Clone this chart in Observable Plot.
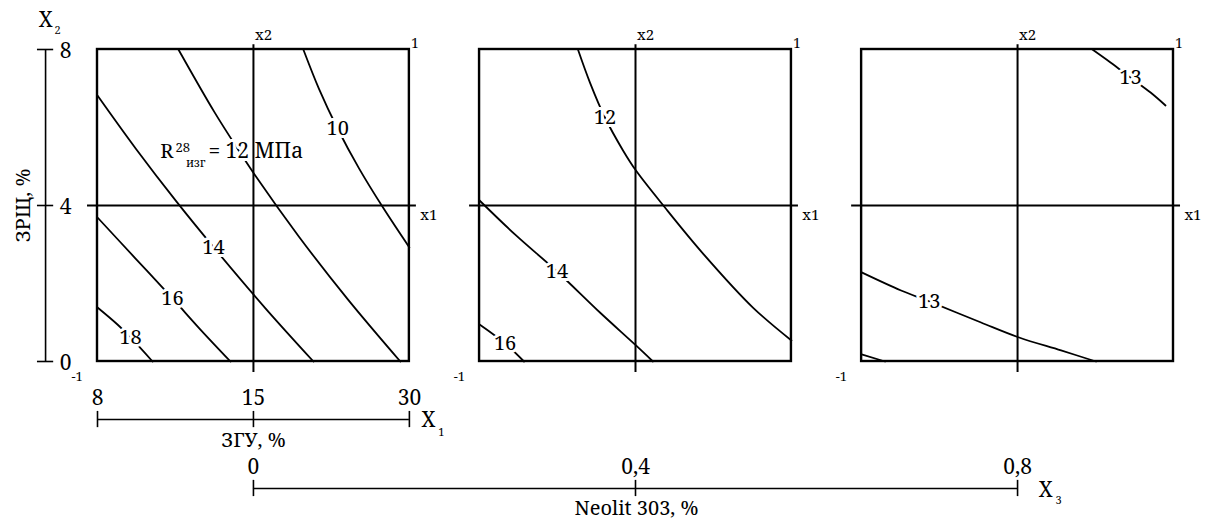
<!DOCTYPE html>
<html>
<head>
<meta charset="utf-8">
<script src="https://cdn.jsdelivr.net/npm/d3@7"></script>
<script src="https://cdn.jsdelivr.net/npm/@observablehq/plot@0.6"></script>
<style>
  body { margin: 0; background: #fff; }
  #chart svg text { font-family: "Noto Serif", "Liberation Serif", "Nimbus Roman", "FreeSerif", "Georgia", "Times", serif; }
</style>
</head>
<body>
<div id="chart"></div>
<script>
// Coded factor levels and the natural values printed on the factor scales
const codedLevels = [-1, 0, 1];
const x1Ticks = ["8", "15", "30"];     // ЗГУ, %
const x2Ticks = ["0", "4", "8"];       // ЗРЩ, %
const x3Ticks = ["0", "0,4", "0,8"];   // Neolit 303, % — one panel per level

// Isolines of flexural strength R28изг, MPa, in coded (x1, x2) coordinates
// Panel X3 = -1 (Neolit 0 %)
const p1_10 = [[0.32,1.0],[0.421,0.746],[0.54,0.492],[0.677,0.238],[0.832,-0.015],[1.0,-0.269]];
const p1_12 = [[-0.481,1.0],[-0.251,0.6],[-0.09,0.346],[0.006,0.2],[0.292,-0.2],[0.604,-0.6],[0.942,-1.0]];
const p1_14 = [[-1.0,0.705],[-0.754,0.364],[-0.492,0.023],[-0.256,-0.267],[0.077,-0.659],[0.385,-1.0]];
const p1_16 = [[-1.0,-0.077],[-0.756,-0.34],[-0.519,-0.596],[-0.34,-0.795],[-0.147,-1.0]];
const p1_18 = [[-1.0,-0.654],[-0.872,-0.763],[-0.788,-0.846],[-0.647,-1.0]];
// Panel X3 = 0 (Neolit 0,4 %)
const p2_12 = [[-0.369,1.0],[-0.292,0.788],[-0.196,0.564],[-0.08,0.353],[0.003,0.224],[0.189,-0.013],[0.433,-0.308],[0.753,-0.654],[1.0,-0.865]];
const p2_14 = [[-1.0,0.032],[-0.766,-0.192],[-0.503,-0.423],[-0.228,-0.686],[0.003,-0.897],[0.112,-1.0]];
const p2_16 = [[-1.0,-0.763],[-0.836,-0.885],[-0.715,-1.0]];
// Panel X3 = +1 (Neolit 0,8 %)
const p3_13a = [[0.48,1.0],[0.596,0.917],[0.724,0.82],[0.853,0.724],[0.949,0.641]];
const p3_13b = [[-1.0,-0.429],[-0.747,-0.545],[-0.567,-0.615],[-0.234,-0.75],[0.01,-0.846],[0.279,-0.929],[0.503,-1.0]];
const p3_14 = [[-1.0,-0.955],[-0.85,-1.0]];

// panel index, level, points, vertex carrying the label (null = unlabeled)
const contours = [
  {panel: 0, level: 10, points: p1_10, labelAt: 2},
  {panel: 0, level: 12, points: p1_12, labelAt: 2, long: true},
  {panel: 0, level: 14, points: p1_14, labelAt: 3},
  {panel: 0, level: 16, points: p1_16, labelAt: 2},
  {panel: 0, level: 18, points: p1_18, labelAt: 2},
  {panel: 1, level: 12, points: p2_12, labelAt: 2},
  {panel: 1, level: 14, points: p2_14, labelAt: 2},
  {panel: 1, level: 16, points: p2_16, labelAt: 1},
  {panel: 2, level: 13, points: p3_13a, labelAt: 2},
  {panel: 2, level: 13, points: p3_13b, labelAt: 2},
  {panel: 2, level: 14, points: p3_14, labelAt: null}
];

// Layout: panels sit side by side on one shared horizontal scale
const STEP = 2.45;                 // distance between panel centres, coded units
const panels = x3Ticks.map((_, i) => i);
const gx = (p, x) => x + STEP * p; // coded x1 within panel p -> shared x

const linePts = contours.flatMap((c, k) =>
  c.points.map(([x, y]) => ({id: k, x: gx(c.panel, x), y})));
const labels = contours.filter(c => c.labelAt != null && !c.long).map(c => ({
  x: gx(c.panel, c.points[c.labelAt][0]),
  y: c.points[c.labelAt][1],
  text: String(c.level)
}));
const longC = contours.find(c => c.long);
const longAt = {x: gx(longC.panel, longC.points[longC.labelAt][0]), y: longC.points[longC.labelAt][1]};

// Factor scale positions (outside the panel frame)
const AX2 = -1.333, Y1 = -1.372, Y3 = -1.814, TK = 0.052;
const serif = "Noto Serif, Liberation Serif, serif";
const T = {fontFamily: serif, fill: "black"};
const halo = {...T, stroke: "white", strokeWidth: 6};

const chart = Plot.plot({
  width: 1206,
  height: 523,
  marginLeft: 97,
  marginRight: 33,
  marginTop: 49,
  marginBottom: 162,
  x: {domain: [-1, 1 + 2 * STEP], axis: null},
  y: {domain: [-1, 1], axis: null},
  style: {fontFamily: serif, background: "white", overflow: "visible"},
  marks: [
    // isolines
    Plot.line(linePts, {x: "x", y: "y", z: "id", curve: "catmull-rom", stroke: "black", strokeWidth: 1.8}),
    // contour labels, cutting the lines beneath
    Plot.text(labels, {x: "x", y: "y", text: "text", fontSize: 20, ...halo}),
    Plot.text([longAt], {x: "x", y: "y", text: () => `= ${longC.level} МПа`, textAnchor: "start", dx: -31, fontSize: 21, ...halo}),
    Plot.text([longAt], {x: "x", y: "y", text: () => "R", textAnchor: "end", dx: -66, fontSize: 20, ...halo}),
    Plot.text([longAt], {x: "x", y: "y", text: () => "28", textAnchor: "start", dx: -64, dy: -4, fontSize: 13, ...T}),
    Plot.text([longAt], {x: "x", y: "y", text: () => "изг", textAnchor: "end", dx: -34, dy: 12, fontSize: 12, ...T}),
    // panel frames and centre cross
    Plot.rect(panels, {x1: p => gx(p, -1), x2: p => gx(p, 1), y1: -1, y2: 1, fill: "none", stroke: "black", strokeWidth: 2.4}),
    Plot.ruleX(panels, {x: p => gx(p, 0), y1: -1.07, y2: 1.03, stroke: "black", strokeWidth: 2}),
    Plot.ruleY(panels, {y: 0, x1: p => gx(p, -1.064), x2: p => gx(p, 1.045), stroke: "black", strokeWidth: 2}),
    // panel coordinate marks
    Plot.text(panels, {x: p => gx(p, 0.01), y: 1.09, text: () => "x2", textAnchor: "start", fontSize: 15, ...T}),
    Plot.text(panels, {x: p => gx(p, 1.035), y: 1.04, text: () => "1", fontSize: 14, ...T}),
    Plot.text(panels, {x: p => gx(p, 1.07), y: -0.064, text: () => "x1", textAnchor: "start", fontSize: 15, ...T}),
    Plot.text(panels, {x: p => gx(p, -1.13), y: -1.096, text: () => "-1", fontSize: 13, ...T}),
    // X2 scale (ЗРЩ)
    Plot.ruleX([AX2], {x: d => d, y1: -1, y2: 1, stroke: "black", strokeWidth: 1.6}),
    Plot.ruleY(codedLevels, {y: d => d, x1: AX2 - TK, x2: AX2 + TK, stroke: "black", strokeWidth: 1.6}),
    Plot.text(codedLevels, {x: AX2 + 0.128, y: d => d, dy: 2, text: (d, i) => x2Ticks[i], fontSize: 21, ...T}),
    Plot.text(["X"], {x: AX2, y: 1.186, text: d => d, fontSize: 21, ...T}),
    Plot.text(["2"], {x: AX2 + 0.077, y: 1.12, text: d => d, fontSize: 11, ...T}),
    Plot.text(["ЗРЩ, %"], {x: -1.474, y: 0, text: d => d, rotate: -90, fontSize: 20, ...T}),
    // X1 scale (ЗГУ)
    Plot.ruleY([Y1], {y: d => d, x1: -1, x2: 1, stroke: "black", strokeWidth: 1.6}),
    Plot.ruleX(codedLevels, {x: d => d, y1: Y1 - TK, y2: Y1 + TK, stroke: "black", strokeWidth: 1.6}),
    Plot.text(codedLevels, {x: d => d, y: -1.237, text: (d, i) => x1Ticks[i], fontSize: 21, ...T}),
    Plot.text(["X"], {x: 1.122, y: -1.378, text: d => d, fontSize: 21, ...T}),
    Plot.text(["1"], {x: 1.205, y: -1.455, text: d => d, fontSize: 11, ...T}),
    Plot.text(["ЗГУ, %"], {x: 0, y: -1.506, text: d => d, fontSize: 20, ...T}),
    // X3 scale (Neolit 303): its levels are the panel centres
    Plot.ruleY([Y3], {y: d => d, x1: gx(0, 0), x2: gx(2, 0), stroke: "black", strokeWidth: 1.6}),
    Plot.ruleX(panels, {x: p => gx(p, 0), y1: Y3 - TK, y2: Y3 + TK, stroke: "black", strokeWidth: 1.6}),
    Plot.text(panels, {x: p => gx(p, 0), y: -1.68, text: p => x3Ticks[p], fontSize: 21, ...T}),
    Plot.text(["X"], {x: gx(2, 0.18), y: -1.827, text: d => d, fontSize: 21, ...T}),
    Plot.text(["3"], {x: gx(2, 0.263), y: -1.89, text: d => d, fontSize: 11, ...T}),
    Plot.text(["Neolit 303, %"], {x: gx(1, 0.006), y: -1.942, text: d => d, fontSize: 20, ...T})
  ]
});

document.getElementById("chart").append(chart);
</script>
</body>
</html>
